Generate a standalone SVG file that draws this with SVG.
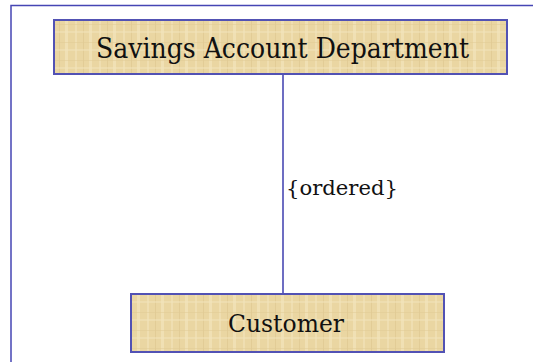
<svg xmlns="http://www.w3.org/2000/svg" width="533" height="362" viewBox="0 0 533 362">
<style>
.box{fill:url(#parch);stroke:#5252b4;stroke-width:2}
.lbl{font-family:"DejaVu Serif","Liberation Serif",serif;fill:#111;text-anchor:middle}
.conn{stroke:#3c3cae;stroke-width:1.5;fill:none}
.frame{stroke:#4646b4;stroke-width:1.5;fill:none}
</style>
<defs>
<pattern id="parch" patternUnits="userSpaceOnUse" width="24" height="18">
<rect width="24" height="18" fill="#ead6a2"/>
<rect x="3" width="2" height="18" fill="#f1e2b8" opacity="0.7"/>
<rect x="11" width="1" height="18" fill="#dcc58e" opacity="0.6"/>
<rect x="17" width="3" height="18" fill="#f3e6c0" opacity="0.6"/>
<rect y="6" width="24" height="1" fill="#dfc993" opacity="0.5"/>
<rect y="13" width="24" height="2" fill="#f2e4bc" opacity="0.5"/>
</pattern>
</defs>
<rect width="533" height="362" fill="#fff"/>
<path class="frame" d="M11,362 V5.5 H533"/>
<g id="connectors">
<line class="conn" x1="283" y1="74" x2="283" y2="294"/>
<text class="lbl" x="342" y="195" font-size="21" fill="#222" textLength="112" lengthAdjust="spacingAndGlyphs">{ordered}</text>
</g>
<g id="savings-account-department">
<rect class="box" x="54" y="20" width="453" height="54"/>
<text class="lbl" x="282.5" y="57.5" font-size="27" textLength="373" lengthAdjust="spacingAndGlyphs">Savings Account Department</text>
</g>
<g id="customer">
<rect class="box" x="131" y="294" width="313" height="58"/>
<text class="lbl" x="286" y="332" font-size="24" textLength="116" lengthAdjust="spacingAndGlyphs">Customer</text>
</g>
</svg>
